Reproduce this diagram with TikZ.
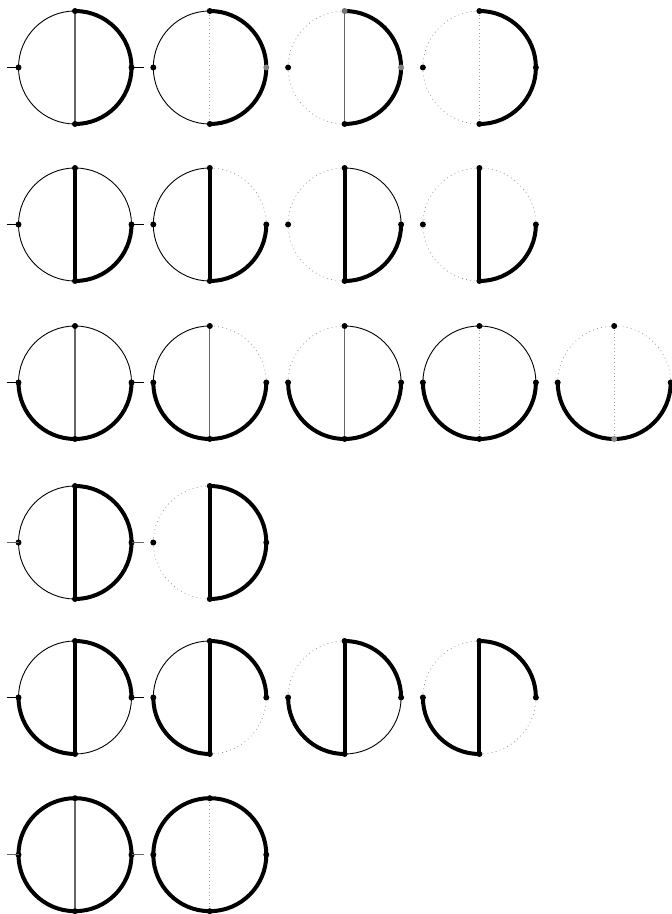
\documentclass[tikz,border=0pt]{standalone}
\begin{document}
\begin{tikzpicture}[x=1pt,y=1pt,
  thinarc/.style={draw=black,line width=0.9pt},
  thickarc/.style={draw=black,line width=4pt},
  dotarc/.style={draw=black!40,line width=0.8pt,dash pattern=on 0.8pt off 3.4pt},
  graychord/.style={draw=black!60,line width=1.3pt},
  thickchord/.style={draw=black,line width=4pt},
  dotchord/.style={draw=black!35,line width=0.8pt,dash pattern=on 0.8pt off 2.8pt},
  blackdot/.style={fill=black},
  dotT/.style={blackdot},dotR/.style={blackdot},dotB/.style={blackdot},dotL/.style={blackdot},
  leg/.style={draw=black,line width=0.9pt},
  grayleg/.style={draw=black!60,line width=1.1pt}]
\useasboundingbox (0,0) rectangle (672,914);
\newcommand\fd[8]{%
  \path (#2,#3) coordinate (#1c)
    +(0,56.5) coordinate (#1T) +(56.5,0) coordinate (#1R)
    +(0,-56.5) coordinate (#1B) +(-56.5,0) coordinate (#1L);
  \draw[#4] (#1L) arc[start angle=180,end angle=90,radius=56.5];
  \draw[#5] (#1T) arc[start angle=90,end angle=0,radius=56.5];
  \draw[#6] (#1R) arc[start angle=0,end angle=-90,radius=56.5];
  \draw[#7] (#1B) arc[start angle=-90,end angle=-180,radius=56.5];
  \draw[#8] (#1T) -- (#1B);
  \fill[dotT] (#1T) circle[radius=3];
  \fill[dotR] (#1R) circle[radius=3];
  \fill[dotB] (#1B) circle[radius=3];
  \fill[dotL] (#1L) circle[radius=3];
}
\newcommand\legs[2]{%
  \path (#1L) +(-12,0) coordinate (#1lx);
  \path (#1R) +(12,0) coordinate (#1rx);
  \draw[#2] (#1lx) -- (#1L);
  \draw[#2] (#1R) -- (#1rx);
}
% Row 1
\fd{a1}{75}{846.5}{thinarc}{thickarc}{thickarc}{thinarc}{graychord}
\legs{a1}{leg}
\begin{scope}[dotR/.style={fill=black!50}]
\fd{a2}{209.8}{846.5}{thinarc}{thickarc}{thickarc}{thinarc}{dotchord}
\end{scope}
\begin{scope}[dotR/.style={fill=black!50},dotT/.style={fill=black!55}]
\fd{a3}{344.6}{846.5}{dotarc}{thickarc}{thickarc}{dotarc}{graychord}
\end{scope}
\fd{a4}{479.4}{846.5}{dotarc}{thickarc}{thickarc}{dotarc}{dotchord}
% Row 2
\fd{b1}{75}{689.5}{thinarc}{thinarc}{thickarc}{thinarc}{thickchord}
\legs{b1}{leg}
\fd{b2}{209.8}{689.5}{thinarc}{dotarc}{thickarc}{thinarc}{thickchord}
\fd{b3}{344.6}{689.5}{dotarc}{thinarc}{thickarc}{dotarc}{thickchord}
\fd{b4}{479.4}{689.5}{dotarc}{dotarc}{thickarc}{dotarc}{thickchord}
% Row 3
\fd{c1}{75}{531.5}{thinarc}{thinarc}{thickarc}{thickarc}{graychord}
\legs{c1}{leg}
\fd{c2}{209.8}{531.5}{thinarc}{dotarc}{thickarc}{thickarc}{graychord}
\fd{c3}{344.6}{531.5}{dotarc}{thinarc}{thickarc}{thickarc}{graychord}
\fd{c4}{479.4}{531.5}{thinarc}{thinarc}{thickarc}{thickarc}{dotchord}
\begin{scope}[dotB/.style={fill=black!45}]
\fd{c5}{614.2}{531.5}{dotarc}{dotarc}{thickarc}{thickarc}{dotchord}
\end{scope}
% Row 4
\fd{d1}{75}{371.5}{thinarc}{thickarc}{thickarc}{thinarc}{thickchord}
\legs{d1}{grayleg}
\fd{d2}{209.8}{371.5}{dotarc}{thickarc}{thickarc}{dotarc}{thickchord}
% Row 5
\fd{e1}{75}{216.5}{thinarc}{thickarc}{thinarc}{thickarc}{thickchord}
\legs{e1}{leg}
\fd{e2}{209.8}{216.5}{thinarc}{thickarc}{dotarc}{thickarc}{thickchord}
\fd{e3}{344.6}{216.5}{dotarc}{thickarc}{thinarc}{thickarc}{thickchord}
\fd{e4}{479.4}{216.5}{dotarc}{thickarc}{dotarc}{thickarc}{thickchord}
% Row 6
\fd{f1}{75}{59.3}{thickarc}{thickarc}{thickarc}{thickarc}{graychord}
\legs{f1}{grayleg}
\fd{f2}{209.8}{59.3}{thickarc}{thickarc}{thickarc}{thickarc}{dotchord}
\end{tikzpicture}
\end{document}
